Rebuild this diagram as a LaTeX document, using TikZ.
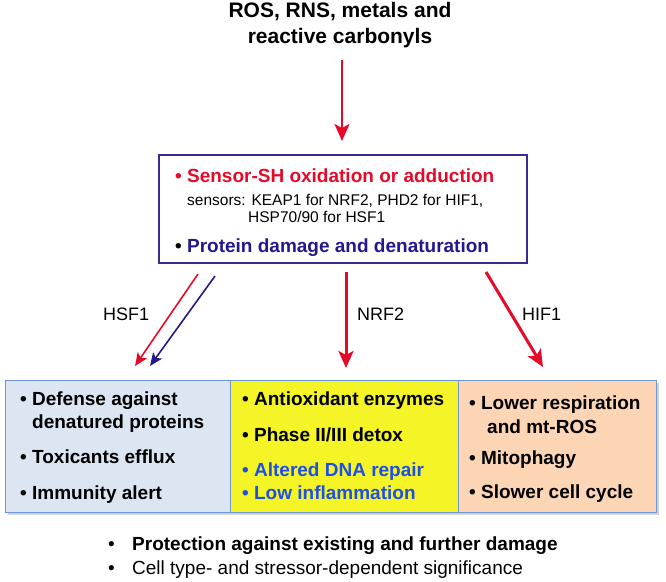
\documentclass[tikz,border=0pt]{standalone}
\usepackage{fontspec}
\setmainfont{Liberation Sans}
\usetikzlibrary{arrows.meta}
\usetikzlibrary{shadows}

\definecolor{sigred}{RGB}{230,10,40}
\definecolor{dmgnavy}{RGB}{35,25,140}
\definecolor{boxnavy}{RGB}{55,45,145}
\definecolor{effblue}{RGB}{30,80,230}
\definecolor{hsfblue}{RGB}{220,230,242}
\definecolor{nrfyellow}{RGB}{244,244,38}
\definecolor{hifpeach}{RGB}{252,213,181}
\definecolor{celledge}{RGB}{110,150,210}

\begin{document}
\begin{tikzpicture}
[x=1pt,y=-1pt,%
  every node/.style={inner sep=0pt},%
  title/.style={anchor=base,font=\fontsize{21}{25}\selectfont\bfseries},%
  line/.style={anchor=base west,font=\fontsize{19}{23}\selectfont\bfseries},%
  small/.style={anchor=base west,font=\fontsize{15.5}{19}\selectfont},%
  tag/.style={anchor=base west,font=\fontsize{18}{22}\selectfont},%
  cell/.style={draw=celledge,line width=1pt,minimum height=132pt,%
    drop shadow={opacity=0.35,shadow xshift=2.5pt,shadow yshift=-2.5pt}},%
  sig/.style={sigred,line width=#1,-{Stealth[length=17pt,width=15pt,inset=4pt]}},%
  thin/.style={line width=1.6pt,-{Stealth[length=13pt,width=11pt,inset=3pt]}}]
\useasboundingbox (0,0) rectangle (666,581);
% stressors
\node[title] (src1) at (340,17) {ROS, RNS, metals and};
\node[title] (src2) at (340,43) {reactive carbonyls};
\coordinate (srcA) at (342,60);
\coordinate (srcB) at (342,141);
\draw[sig=2.6pt] (srcA) -- (srcB);
% sensing box
\node[draw=boxnavy,line width=1.3pt,minimum width=368pt,minimum height=108pt] (sensor) at (343,209) {};
\node[line,text=sigred] (sh) at (175,182) {\textbullet\ Sensor-SH oxidation or adduction};
\node[small] (keap) at (187,205) {sensors: KEAP1 for NRF2, PHD2 for HIF1,};
\node[small] (hsp) at (248,222) {HSP70/90 for HSF1};
\node[line,text=dmgnavy] (prot) at (175,252) {\textcolor{black}{\textbullet}\ Protein damage and denaturation};
% pathways
\coordinate (hsfR0) at (198,274);
\coordinate (hsfR1) at (135,366);
\coordinate (hsfB0) at (215,276);
\coordinate (hsfB1) at (150,366);
\coordinate (nrf0) at (346,272);
\coordinate (nrf1) at (346,368);
\coordinate (hif0) at (486,272);
\coordinate (hif1) at (543,367);
\draw[thin,sigred] (hsfR0) -- (hsfR1);
\draw[thin,dmgnavy] (hsfB0) -- (hsfB1);
\draw[sig=3pt] (nrf0) -- (nrf1);
\draw[sig=3pt] (hif0) -- (hif1);
\node[tag] (hsf) at (103,320) {HSF1};
\node[tag] (nrf) at (357,320) {NRF2};
\node[tag] (hif) at (522,320) {HIF1};
% responses
\node[cell,fill=hsfblue,minimum width=225pt] (hsfbox) at (117.5,446) {};
\node[cell,fill=nrfyellow,minimum width=228pt] (nrfbox) at (344,446) {};
\node[cell,fill=hifpeach,minimum width=198pt] (hifbox) at (557,446) {};
\node[line] (def1) at (20,405) {\textbullet\ Defense against};
\node[line] (def2) at (32,428) {denatured proteins};
\node[line] (tox) at (20,463) {\textbullet\ Toxicants efflux};
\node[line] (imm) at (20,499) {\textbullet\ Immunity alert};
\node[line] (antiox) at (242,405) {\textbullet\ Antioxidant enzymes};
\node[line] (phase) at (242,441) {\textbullet\ Phase II/III detox};
\node[line,text=effblue] (dna) at (242,476) {\textbullet\ Altered DNA repair};
\node[line,text=effblue] (infl) at (242,499) {\textbullet\ Low inflammation};
\node[line] (resp1) at (469,409) {\textbullet\ Lower respiration};
\node[line] (resp2) at (487,433) {and mt-ROS};
\node[line] (mito) at (469,464) {\textbullet\ Mitophagy};
\node[line] (cycle) at (469,498) {\textbullet\ Slower cell cycle};
% outcome
\node[line] (prot2) at (108,550) {\makebox[24pt][l]{\mdseries\textbullet}Protection against existing and further damage};
\node[line,font=\fontsize{19}{23}\selectfont] (sig2) at (108,574) {\makebox[24pt][l]{\textbullet}Cell type- and stressor-dependent significance};
\end{tikzpicture}
\end{document}
